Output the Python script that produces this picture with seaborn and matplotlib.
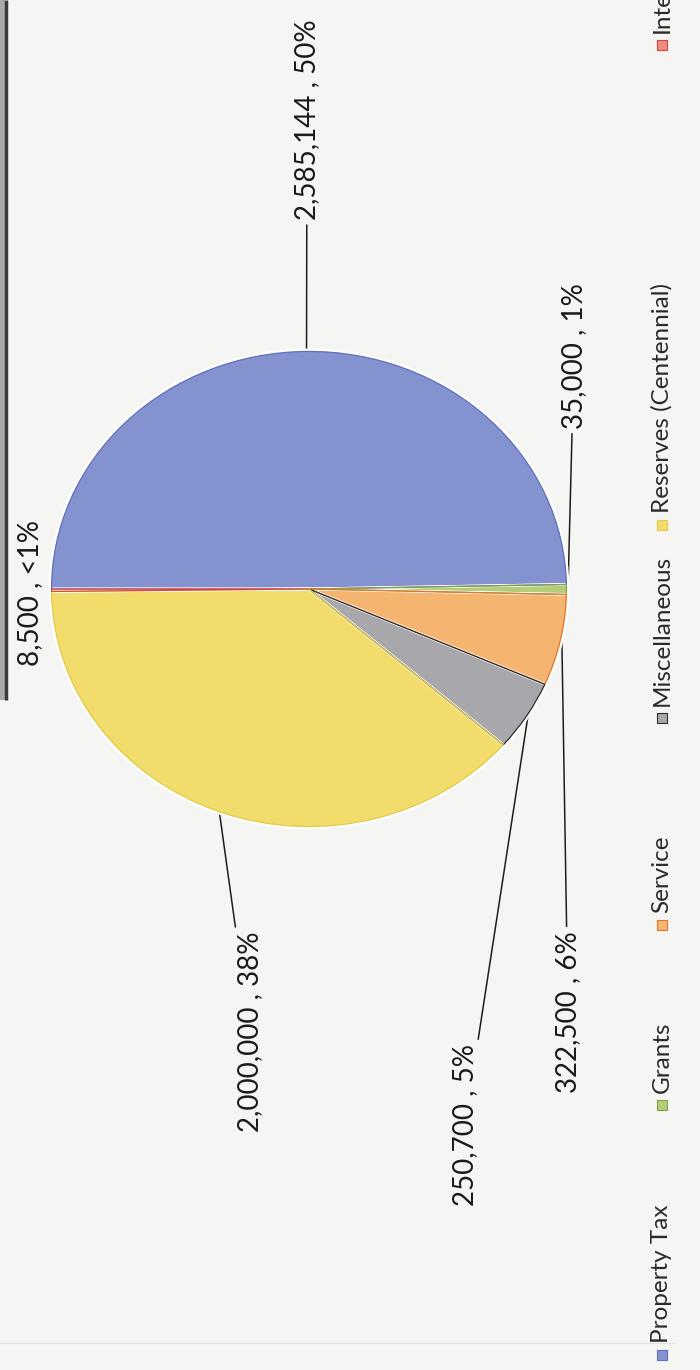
import numpy as np
import matplotlib
matplotlib.use("Agg")
import matplotlib.pyplot as plt
import seaborn as sns

# Revenue sources and amounts
categories = ["Property Tax", "Grants", "Service", "Miscellaneous",
              "Reserves (Centennial)", "Interest"]
amounts = [2585144, 35000, 322500, 250700, 2000000, 8500]
pct_labels = ["50%", "1%", "6%", "5%", "38%", "<1%"]

fill_colors = ["#8592d0", "#b3cd78", "#f5b571", "#a8a8ac", "#f1dc6c", "#ec8c82"]
edge_colors = ["#6270bd", "#86a244", "#e2762e", "#2f2f31", "#e3cc4c", "#d9473c"]

sns.set_theme(style="white")
plt.rcParams["font.family"] = ["Lato", "DejaVu Sans"]

W, H = 700, 1370
BG = "#f5f5f3"
fig = plt.figure(figsize=(W / 100, H / 100), dpi=100, facecolor=BG)

# full-page canvas in pixel units (y grows downward)
canvas = fig.add_axes([0, 0, 1, 1])
canvas.set_xlim(0, W)
canvas.set_ylim(H, 0)
canvas.axis("off")
canvas.set_facecolor(BG)

# pie area (page is turned on its side)
left, right, top, bottom = 50, 568, 350, 828
pie_ax = fig.add_axes([left / W, 1 - bottom / H, (right - left) / W, (bottom - top) / H])
pie_ax.set_zorder(2)
wedges, _ = pie_ax.pie(amounts, colors=fill_colors, startangle=180, counterclock=False,
                       wedgeprops=dict(linewidth=2.0, edgecolor="white"))
outline, _ = pie_ax.pie(amounts, startangle=180, counterclock=False, radius=0.994,
                        wedgeprops=dict(linewidth=0.9, fill=False))
for w, ec in zip(outline, edge_colors):
    w.set_edgecolor(ec)
for w in list(wedges) + list(outline):
    w.set_clip_on(False)
pie_ax.set_aspect("auto")
pie_ax.set_xlim(-1, 1)
pie_ax.set_ylim(-1, 1)
pie_ax.axis("off")
pie_ax.patch.set_alpha(0)

# data labels with leader lines
label_pos = [(307, 120), (574, 356), (568, 1012), (465, 1125), (250, 1032), (30, 593)]
to_canvas = pie_ax.transData + canvas.transData.inverted()
for i, (w, amt, pct) in enumerate(zip(wedges, amounts, pct_labels)):
    mid = np.deg2rad((w.theta1 + w.theta2) / 2)
    anchor = to_canvas.transform((np.cos(mid), np.sin(mid)))
    txt = f"{amt:,} , {pct}"
    arrow = None if categories[i] == "Interest" else dict(
        arrowstyle="-", color="#1e1e1e", lw=1.1, shrinkA=1, shrinkB=0)
    canvas.annotate(txt, xy=anchor, xytext=label_pos[i], textcoords="data",
                    rotation=90, ha="center", va="center", fontsize=20,
                    color="#1a1a1a", arrowprops=arrow, zorder=3)

# legend, running along the right edge
legend_x = 662
marker_y = [1355, 1105, 925, 718, 525, 45]
for cat, fc, ec, my in zip(categories, fill_colors, edge_colors, marker_y):
    canvas.scatter([legend_x], [my], marker="s", s=60, facecolor=fc, edgecolor=ec,
                   linewidth=0.8, zorder=3, clip_on=False)
    canvas.text(legend_x, my - 12, cat, rotation=90, ha="center", va="bottom",
                fontsize=17.5, color="#2a2a2a", zorder=3)

# page edge and chart frame
canvas.plot([6, 6], [0, 700], color="#3c3c3c", lw=2.5, solid_capstyle="butt")
canvas.axvspan(0, 5, ymin=1 - 700 / H, ymax=1, color="#a9a9a9", lw=0)
canvas.plot([0, 675], [1343, 1343], color="#e3e3e1", lw=1)

fig.savefig("out.png", dpi=100, facecolor=BG)
